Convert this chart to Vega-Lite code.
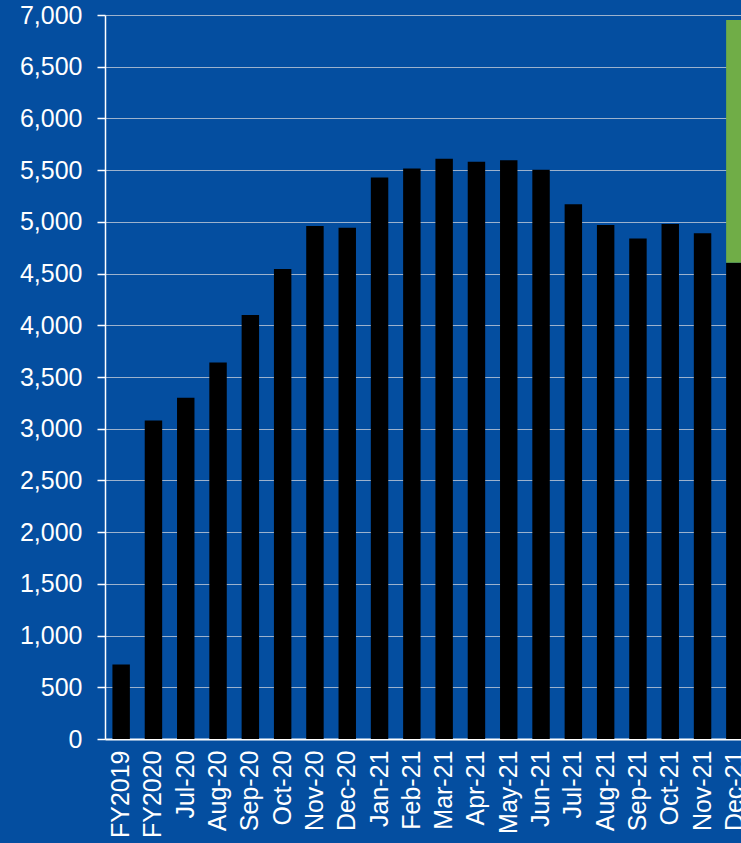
{
  "$schema": "https://vega.github.io/schema/vega-lite/v6.json",
  "autosize": "none",
  "padding": {"left": 105, "top": 15, "right": 0, "bottom": 104},
  "width": 646,
  "height": 724,
  "background": "#044EA0",
  "config": {"view": {"stroke": null}, "font": "Liberation Sans"},
  "data": {
    "values": [
      {"month": "FY2019", "part": "base", "value": 720},
      {"month": "FY2020", "part": "base", "value": 3080},
      {"month": "Jul-20", "part": "base", "value": 3300},
      {"month": "Aug-20", "part": "base", "value": 3640},
      {"month": "Sep-20", "part": "base", "value": 4100},
      {"month": "Oct-20", "part": "base", "value": 4545},
      {"month": "Nov-20", "part": "base", "value": 4960},
      {"month": "Dec-20", "part": "base", "value": 4942},
      {"month": "Jan-21", "part": "base", "value": 5430},
      {"month": "Feb-21", "part": "base", "value": 5515},
      {"month": "Mar-21", "part": "base", "value": 5609},
      {"month": "Apr-21", "part": "base", "value": 5580},
      {"month": "May-21", "part": "base", "value": 5596},
      {"month": "Jun-21", "part": "base", "value": 5503},
      {"month": "Jul-21", "part": "base", "value": 5171},
      {"month": "Aug-21", "part": "base", "value": 4970},
      {"month": "Sep-21", "part": "base", "value": 4840},
      {"month": "Oct-21", "part": "base", "value": 4980},
      {"month": "Nov-21", "part": "base", "value": 4890},
      {"month": "Dec-21", "part": "base", "value": 4605},
      {"month": "Dec-21", "part": "extra", "value": 2347}
    ]
  },
  "mark": {"type": "bar"},
  "encoding": {
    "x": {
      "field": "month",
      "type": "nominal",
      "sort": null,
      "scale": {"paddingInner": 0.46, "paddingOuter": 0.23},
      "axis": {
        "title": null,
        "labelAngle": -90,
        "labelAlign": "right",
        "labelBaseline": "middle",
        "labelFontSize": 25,
        "labelColor": "#FFFFFF",
        "labelPadding": 11,
        "labelOverlap": false,
        "ticks": false,
        "domainColor": "#FFFFFF",
        "domainWidth": 2,
        "grid": false
      }
    },
    "y": {
      "field": "value",
      "type": "quantitative",
      "stack": "zero",
      "scale": {"domain": [0, 7000], "nice": false},
      "axis": {
        "title": null,
        "values": [0, 500, 1000, 1500, 2000, 2500, 3000, 3500, 4000, 4500, 5000, 5500, 6000, 6500, 7000],
        "format": ",.0f",
        "labelFontSize": 25,
        "labelColor": "#FFFFFF",
        "labelPadding": 15,
        "labelOverlap": false,
        "tickSize": 8,
        "tickColor": "#FFFFFF",
        "tickWidth": 1.5,
        "domainColor": "#FFFFFF",
        "domainWidth": 1.5,
        "grid": true,
        "gridColor": "#D0D4DC",
        "gridOpacity": 0.75,
        "gridWidth": 1
      }
    },
    "color": {
      "field": "part",
      "type": "nominal",
      "scale": {"domain": ["base", "extra"], "range": ["#000000", "#70AD47"]},
      "legend": null
    },
    "order": {"field": "part", "sort": "ascending"}
  }
}
